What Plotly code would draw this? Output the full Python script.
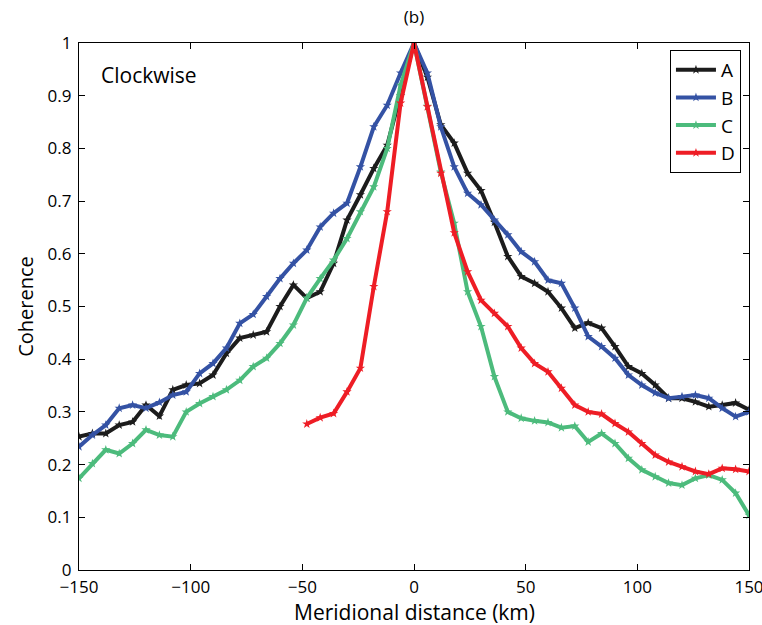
import plotly.graph_objects as go

x_all = list(range(-150, 151, 6))
x_d = list(range(-48, 151, 6))

a_vals = [0.253, 0.259, 0.259, 0.275, 0.281, 0.313, 0.292, 0.342, 0.351, 0.354,
          0.370, 0.411, 0.440, 0.446, 0.452, 0.500, 0.541, 0.516, 0.528, 0.582,
          0.664, 0.712, 0.762, 0.806, 0.900, 1.000, 0.935, 0.845, 0.810, 0.753,
          0.720, 0.660, 0.595, 0.557, 0.544, 0.528, 0.497, 0.459, 0.469, 0.459,
          0.424, 0.386, 0.373, 0.351, 0.326, 0.326, 0.319, 0.310, 0.313, 0.317,
          0.304]
b_vals = [0.234, 0.256, 0.275, 0.307, 0.313, 0.307, 0.318, 0.332, 0.338, 0.373,
          0.392, 0.421, 0.468, 0.485, 0.519, 0.553, 0.582, 0.607, 0.651, 0.677,
          0.696, 0.765, 0.841, 0.882, 0.943, 1.000, 0.943, 0.841, 0.765, 0.715,
          0.693, 0.664, 0.636, 0.604, 0.585, 0.550, 0.544, 0.497, 0.443, 0.424,
          0.402, 0.370, 0.351, 0.336, 0.326, 0.329, 0.332, 0.326, 0.307, 0.291,
          0.300]
c_vals = [0.174, 0.202, 0.228, 0.221, 0.240, 0.266, 0.256, 0.253, 0.300, 0.316,
          0.329, 0.342, 0.360, 0.386, 0.402, 0.430, 0.465, 0.516, 0.553, 0.588,
          0.629, 0.680, 0.727, 0.800, 0.920, 1.000, 0.880, 0.755, 0.658, 0.528,
          0.462, 0.367, 0.300, 0.288, 0.283, 0.280, 0.270, 0.273, 0.243, 0.259,
          0.240, 0.212, 0.190, 0.177, 0.165, 0.161, 0.174, 0.180, 0.171, 0.146,
          0.104]
d_vals = [0.277, 0.289, 0.297, 0.338, 0.383, 0.538, 0.680, 0.886, 1.000, 0.879,
          0.753, 0.640, 0.566, 0.512, 0.487, 0.462, 0.421, 0.392, 0.376, 0.345,
          0.313, 0.300, 0.296, 0.278, 0.262, 0.240, 0.218, 0.205, 0.196, 0.187,
          0.182, 0.193, 0.191, 0.187]

series = [
    ("A", x_all, a_vals, "#1c1c1c"),
    ("B", x_all, b_vals, "#3452a4"),
    ("C", x_all, c_vals, "#4cbb7c"),
    ("D", x_d, d_vals, "#ee1d25"),
]

x_ticks = [-150, -100, -50, 0, 50, 100, 150]
x_tick_text = ["\u2212150", "\u2212100", "\u221250", "0", "50", "100", "150"]
y_ticks = [0, 0.1, 0.2, 0.3, 0.4, 0.5, 0.6, 0.7, 0.8, 0.9, 1]
y_tick_text = ["0", "0.1", "0.2", "0.3", "0.4", "0.5", "0.6", "0.7", "0.8", "0.9", "1"]

FONT = "Open Sans, Liberation Sans, sans-serif"

fig = go.Figure()
for name, xs, ys, col in series:
    fig.add_trace(go.Scatter(
        x=xs, y=ys, name=name, mode="lines+markers",
        line=dict(color=col, width=4),
        marker=dict(color=col, size=7, symbol="star"),
    ))

axis_common = dict(
    showline=True, linecolor="black", linewidth=1.3, mirror="ticks",
    ticks="inside", ticklen=6, tickcolor="black", showgrid=False, zeroline=False,
    tickfont=dict(family=FONT, size=17, color="black"),
    ticklabeloverflow="allow", automargin=False,
)

fig.update_layout(
    width=762, height=625,
    margin=dict(l=79, r=13, t=43, b=55),
    paper_bgcolor="white", plot_bgcolor="white",
    font=dict(family=FONT, color="black"),
    title=dict(text="(b)", x=(79 + 335) / 762, xanchor="center", y=0.972, yanchor="middle",
               font=dict(family=FONT, size=17, color="black")),
    xaxis=dict(range=[-150, 150], tickvals=x_ticks, ticktext=x_tick_text,
               ticklabelstandoff=1, **axis_common),
    yaxis=dict(range=[0, 1], tickvals=y_ticks, ticktext=y_tick_text,
               ticklabelstandoff=3,
               title=dict(text="Coherence", standoff=8,
                          font=dict(family=FONT, size=20, color="black")),
               **axis_common),
    legend=dict(x=0.988, y=0.987, xanchor="right", yanchor="top",
                bgcolor="white", bordercolor="black", borderwidth=1,
                font=dict(family=FONT, size=19, color="black"),
                tracegroupgap=0, itemwidth=40),
    annotations=[
        dict(text="Clockwise", xref="paper", yref="paper",
             x=0.03, y=0.94, xanchor="left", yanchor="middle",
             showarrow=False, font=dict(family=FONT, size=21, color="black")),
        dict(text="Meridional distance (km)", xref="paper", yref="paper",
             x=0.5, y=-0.080, xanchor="center", yanchor="middle",
             showarrow=False, font=dict(family=FONT, size=21, color="black")),
    ],
    showlegend=True,
)

fig.write_html("out.html")
